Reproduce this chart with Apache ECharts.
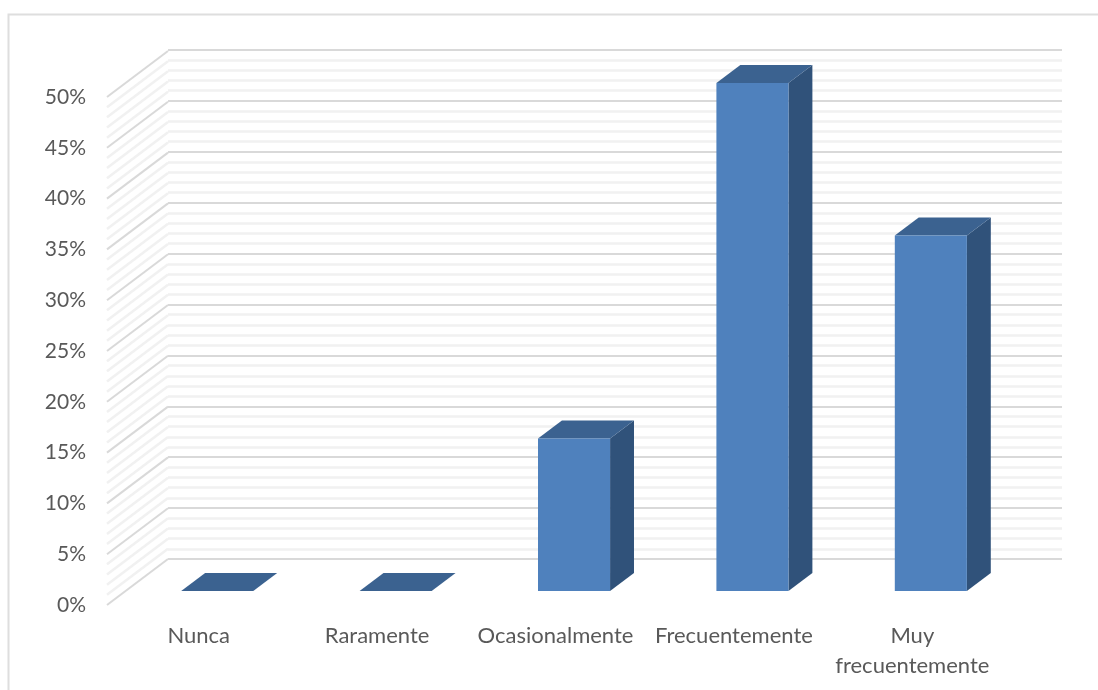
<!DOCTYPE html>
<html>
<head>
<meta charset="utf-8">
<style>html,body{margin:0;padding:0;background:#fff}#chart{width:1098px;height:690px}</style>
<script src="https://cdn.jsdelivr.net/npm/echarts@6/dist/echarts.min.js"></script>
</head>
<body>
<div id="chart"></div>
<script>
// Frecuencia de respuesta, columnas con apariencia 3D
const categories = ['Nunca', 'Raramente', 'Ocasionalmente', 'Frecuentemente', 'Muy\nfrecuentemente'];
const percentages = [0, 0, 15, 50, 35];
const yTicks = [0, 5, 10, 15, 20, 25, 30, 35, 40, 45, 50];

// Oblique projection of the floor depth, in pixels
const DEPTH_X = 61;
const DEPTH_Y = -46;
const WALL_INSET = 2.5;
const BAR_WIDTH = 0.404;
const BAR_DEPTH_START = 0.304;
const BAR_DEPTH_END = 0.696;

const FONT = 'Lato';
const TEXT = '#595959';
const MAJOR = '#d9d9d9';
const MINOR = '#f1f1f1';

// Lines running along the left wall, from the front plane to the back plane
function renderWall(params, api) {
  const level = api.value(0);
  const left = api.coord([0, 0])[0] - api.size([1, 0])[0] / 2 - WALL_INSET;
  const children = [];
  const steps = level < 50 ? 5 : 1;
  for (let i = steps - 1; i >= 0; i--) {
    const y = api.coord([0, level + i])[1];
    children.push({
      type: 'line',
      shape: { x1: left, y1: y, x2: left + DEPTH_X, y2: y + DEPTH_Y },
      style: { stroke: i === 0 ? MAJOR : MINOR, lineWidth: i === 0 ? 2 : 2.5 }
    });
  }
  return { type: 'group', children };
}

// One column: front face, right side and top, placed inside its depth band
function renderColumn(params, api) {
  const idx = api.value(0);
  const base = api.coord([idx, 0]);
  const top = api.coord([idx, api.value(1)]);
  const w = api.size([1, 0])[0] * BAR_WIDTH;
  const ox = DEPTH_X * BAR_DEPTH_START;
  const oy = DEPTH_Y * BAR_DEPTH_START;
  const dx = DEPTH_X * (BAR_DEPTH_END - BAR_DEPTH_START);
  const dy = DEPTH_Y * (BAR_DEPTH_END - BAR_DEPTH_START);
  const x0 = base[0] + ox - w / 2;
  const x1 = x0 + w;
  const yb = base[1] + oy;
  const yt = top[1] + oy;
  return {
    type: 'group',
    children: [
      { type: 'polygon', shape: { points: [[x1, yt], [x1 + dx, yt + dy], [x1 + dx, yb + dy], [x1, yb]] }, style: { fill: '#30527a' } },
      { type: 'polygon', shape: { points: [[x0, yt], [x0 + dx, yt + dy], [x1 + dx, yt + dy], [x1, yt]] }, style: { fill: '#3b6290' } },
      { type: 'rect', shape: { x: x0, y: yt, width: w, height: yb - yt }, style: { fill: '#4f81bd' } }
    ]
  };
}

const chart = echarts.init(document.getElementById('chart'), null, { renderer: 'canvas' });
chart.setOption({
  animation: false,
  backgroundColor: '#ffffff',
  textStyle: { fontFamily: FONT },
  graphic: [{
    type: 'rect',
    shape: { x: 8.5, y: 14.5, width: 1200, height: 800 },
    style: { fill: 'none', stroke: '#dedede', lineWidth: 2 },
    silent: true
  }],
  grid: [
    { left: 109.5, top: 97, width: 892, height: 508 },
    { left: 168, top: 50, width: 894, height: 509 }
  ],
  xAxis: [
    {
      type: 'category', gridIndex: 0, data: categories,
      axisLine: { show: false }, axisTick: { show: false },
      axisLabel: { color: TEXT, fontSize: 22, fontFamily: FONT, margin: 16, lineHeight: 30, interval: 0, hideOverlap: false }
    },
    {
      type: 'category', gridIndex: 1, data: categories,
      axisLine: { show: false }, axisTick: { show: false }, axisLabel: { show: false }
    }
  ],
  yAxis: [
    {
      type: 'value', gridIndex: 0, min: 0, max: 50, interval: 5,
      axisLine: { show: false }, axisTick: { show: false }, splitLine: { show: false },
      axisLabel: { color: TEXT, fontSize: 21, fontFamily: FONT, margin: 23.5, formatter: '{value}%' }
    },
    {
      type: 'value', gridIndex: 1, min: 0, max: 50, interval: 5,
      axisLine: { show: false }, axisTick: { show: false }, axisLabel: { show: false },
      splitLine: { show: true, lineStyle: { color: MAJOR, width: 2 } },
      minorTick: { show: false, splitNumber: 5 },
      minorSplitLine: { show: true, lineStyle: { color: MINOR, width: 2.5 } }
    }
  ],
  series: [
    {
      type: 'custom', name: 'Pared', xAxisIndex: 0, yAxisIndex: 0, silent: true, z: 1,
      clip: false, renderItem: renderWall, data: yTicks.map(v => [v]),
      encode: { y: 0 }
    },
    {
      type: 'custom', name: 'Porcentaje', xAxisIndex: 0, yAxisIndex: 0, z: 3,
      clip: false, renderItem: renderColumn,
      data: percentages.map((v, i) => [i, v]),
      encode: { x: 0, y: 1 }
    }
  ]
});
</script>
</body>
</html>
